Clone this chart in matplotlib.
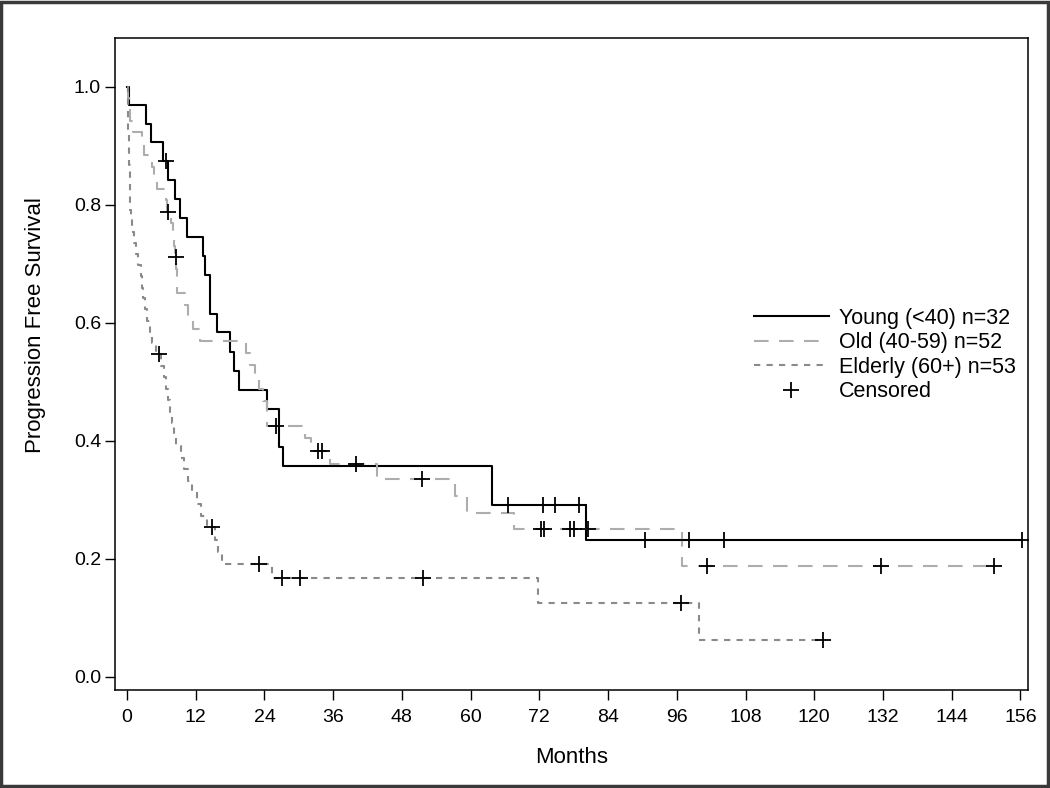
import numpy as np
import matplotlib
matplotlib.use("Agg")
import matplotlib.pyplot as plt
from matplotlib.lines import Line2D
from matplotlib.patches import Rectangle

plt.rcParams["font.family"] = ["Liberation Sans", "DejaVu Sans"]

# Young (<40) n=32 -- step times (months) and survival after each step
young_t = [0, 0.35, 3.3, 4.2, 6.2, 7.1, 8.4, 9.2, 10.4, 13.3, 13.6, 14.5, 15.8,
           18.0, 18.6, 19.5, 24.5, 26.6, 27.2, 63.7, 80.2, 156.3]
young_s = [1.0, 0.969, 0.938, 0.906, 0.875, 0.843, 0.810, 0.778, 0.746, 0.713,
           0.681, 0.616, 0.584, 0.551, 0.519, 0.486, 0.454, 0.389, 0.357, 0.292,
           0.233, 0.233]
young_cens = [6.8, 66.5, 72.6, 74.8, 79.0, 90.5, 98.1, 104.2, 156.3]

# Old (40-59) n=52
old_t = [0, 0.2, 0.3, 0.6, 1.0, 2.6, 3.0, 4.3, 4.8, 5.3, 6.8, 7.0, 7.6, 8.0, 8.2,
         8.4, 8.6, 8.7, 8.8, 10.1, 10.7, 11.6, 12.8, 20.7, 21.5, 22.4, 23.1, 23.7,
         24.4, 31.1, 32.2, 35.5, 43.7, 57.3, 59.3, 67.5, 96.9, 151.3]
old_s = [1.0, 0.981, 0.962, 0.942, 0.923, 0.904, 0.885, 0.865, 0.846, 0.827,
         0.808, 0.788, 0.769, 0.750, 0.730, 0.711, 0.691, 0.670, 0.650, 0.630,
         0.610, 0.590, 0.569, 0.549, 0.529, 0.508, 0.488, 0.467, 0.426, 0.405,
         0.383, 0.361, 0.335, 0.307, 0.278, 0.251, 0.188, 0.188]
old_cens = [7.2, 8.5, 26.0, 33.4, 34.0, 39.9, 51.5, 72.2, 72.8, 77.4, 78.0, 80.5,
            101.3, 131.7, 151.3]

# Elderly (60+) n=53
eld_t = [0, 0.1, 0.15, 0.2, 0.25, 0.3, 0.35, 0.4, 0.45, 0.5, 0.55, 0.6, 0.7, 0.8,
         1.2, 1.6, 2.0, 2.4, 2.6, 2.8, 3.2, 3.5, 4.0, 4.4, 5.0, 6.0, 6.4, 6.8, 7.2,
         7.5, 7.8, 8.2, 8.6, 9.4, 10.0, 10.7, 11.4, 12.2, 13.0, 14.0, 15.4, 15.9,
         16.5, 25.4, 71.7, 99.8, 121.6]
eld_s = [1.0, 0.981, 0.962, 0.943, 0.925, 0.906, 0.887, 0.868, 0.849, 0.830,
         0.811, 0.792, 0.774, 0.755, 0.736, 0.717, 0.698, 0.679, 0.660, 0.642,
         0.623, 0.604, 0.585, 0.566, 0.547, 0.527, 0.508, 0.488, 0.469, 0.449,
         0.430, 0.410, 0.391, 0.371, 0.352, 0.332, 0.313, 0.293, 0.273, 0.254,
         0.233, 0.212, 0.191, 0.167, 0.125, 0.0625, 0.0625]
eld_cens = [5.6, 14.8, 23.1, 27.1, 30.2, 51.7, 96.7, 121.6]

labels = ["Young (<40) n=32", "Old (40-59) n=52", "Elderly (60+) n=53", "Censored"]
x_ticks = list(range(0, 157, 12))
y_ticks = [0.0, 0.2, 0.4, 0.6, 0.8, 1.0]


def surv_at(times, surv, t):
    idx = np.searchsorted(times, t, side="right") - 1
    return np.asarray(surv)[idx]


fig = plt.figure(figsize=(10.5, 7.88), dpi=100)
fig.patches.append(Rectangle((0.001, 0.002), 0.997, 0.995, transform=fig.transFigure,
                             fill=False, edgecolor="#3a3a3a", lw=2.5))
ax = fig.add_axes([0.1095, 0.1244, 0.870, 0.8274])

styles = [
    (young_t, young_s, young_cens, dict(color="black", lw=1.5, linestyle="-")),
    (old_t, old_s, old_cens, dict(color="#adadad", lw=1.5, linestyle=(0, (7, 5)))),
    (eld_t, eld_s, eld_cens, dict(color="#8a8a8a", lw=1.5, linestyle=(0, (3, 3)))),
]
handles = []
for (t, s, cens, st), lab in zip(styles, labels[:3]):
    ax.step(t, s, where="post", **st)
    handles.append(Line2D([], [], **st))
    cy = surv_at(t, s, cens)
    ax.plot(cens, cy, linestyle="none", marker="+", color="black",
            markersize=11, markeredgewidth=1.3, zorder=5)
handles.append(Line2D([], [], linestyle="none", marker="+", color="black",
                      markersize=11, markeredgewidth=1.3))

ax.set_xlim(-2.1, 157.4)
ax.set_ylim(-0.022, 1.083)
ax.set_xticks(x_ticks)
ax.set_yticks(y_ticks)
ax.set_yticklabels([f"{v:.1f}" for v in y_ticks])
ax.tick_params(direction="out", length=7, width=1, labelsize=14)
ax.tick_params(axis="x", pad=7)
ax.tick_params(axis="y", pad=3)
for sp in ax.spines.values():
    sp.set_linewidth(1.1)
ax.set_xlabel("Months", fontsize=16)
ax.set_ylabel("Progression Free Survival", fontsize=16)
ax.xaxis.set_label_coords(0.5, -0.088)
ax.yaxis.set_label_coords(-0.076, 0.56)

ax.legend(handles, labels, loc="upper left", bbox_to_anchor=(0.699, 0.586),
          frameon=False, fontsize=15.5, handlelength=3.5, handletextpad=0.45,
          labelspacing=0.16, borderpad=0, borderaxespad=0)

fig.savefig("out.png", dpi=100)
